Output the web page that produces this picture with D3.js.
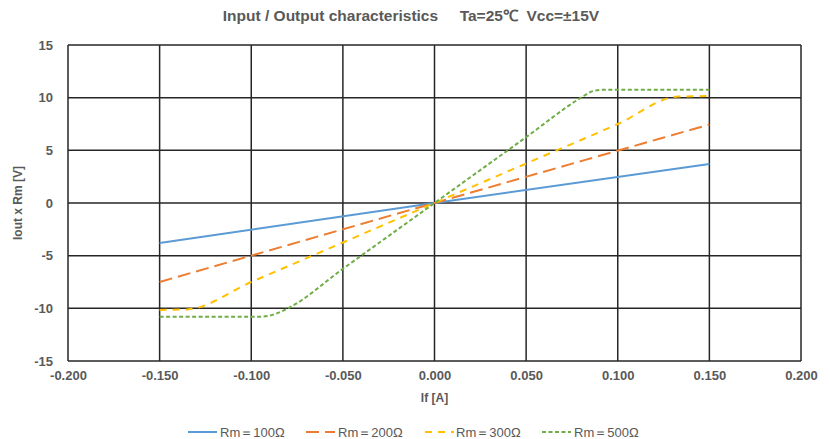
<!DOCTYPE html>
<html>
<head>
<meta charset="utf-8">
<script src="https://cdn.jsdelivr.net/npm/d3@7"></script>
<style>
	body { margin: 0; background: #fff; }
	svg { display: block; font-family: "Liberation Sans", Arial, sans-serif; }
</style>
</head>
<body>
<svg width="830" height="439"></svg>
<script>
// values
var seriesNames = ["Rm＝100Ω", "Rm＝200Ω", "Rm＝300Ω", "Rm＝500Ω"];
var seriesColors = ["#5B9BD5", "#ED7D31", "#FFC000", "#70AD47"];
var seriesDash = [null, "13,6", "7,6", "4,2.5"];

var ifRm100 = [-0.15, 0, 0.15];
var vRm100 = [-3.8, 0, 3.7];

var ifRm200 = [-0.15, 0, 0.15];
var vRm200 = [-7.5, 0, 7.45];

var ifRm300 = [-0.15, -0.135, -0.1, -0.05, 0, 0.05, 0.1, 0.133, 0.15];
var vRm300 = [-10.15, -10.1, -7.5, -3.75, 0, 3.75, 7.5, 10.1, 10.15];

var ifRm500 = [-0.15, -0.12, -0.095, -0.088, -0.08, -0.05, 0, 0.05, 0.08, 0.086, 0.092, 0.12, 0.15];
var vRm500 = [-10.8, -10.8, -10.8, -10.6, -10.0, -6.25, 0, 6.25, 10.0, 10.6, 10.75, 10.75, 10.75];

var xTicks = [-0.2, -0.15, -0.1, -0.05, 0, 0.05, 0.1, 0.15, 0.2];
var yTicks = [-15, -10, -5, 0, 5, 10, 15];

var titleText = "Input / Output characteristics\u00a0\u00a0\u00a0\u00a0\u00a0Ta=25\u2103\u00a0\u00a0Vcc=\u00b115V";

function drawChart() {
	var series = [
		{ x: ifRm100, y: vRm100 },
		{ x: ifRm200, y: vRm200 },
		{ x: ifRm300, y: vRm300 },
		{ x: ifRm500, y: vRm500 }
	].map(function(s, i) {
		return {
			name: seriesNames[i],
			color: seriesColors[i],
			dash: seriesDash[i],
			points: s.x.map(function(v, j) { return [v, s.y[j]]; })
		};
	});

	var svg = d3.select("svg"),
		margin = { top: 45, right: 29, bottom: 78, left: 68 },
		width = +svg.attr("width") - margin.left - margin.right,
		height = +svg.attr("height") - margin.top - margin.bottom;

	var x = d3.scaleLinear().domain([-0.2, 0.2]).range([0, width]),
		y = d3.scaleLinear().domain([-15, 15]).range([height, 0]);

	var g = svg.append("g")
		.attr("transform", "translate(" + margin.left + "," + margin.top + ")");

	// grid
	g.append("g")
		.selectAll("line")
		.data(xTicks)
		.enter().append("line")
		.attr("x1", function(d) { return x(d); })
		.attr("x2", function(d) { return x(d); })
		.attr("y1", 0)
		.attr("y2", height)
		.attr("stroke", "#262626")
		.attr("stroke-width", 1.5);

	g.append("g")
		.selectAll("line")
		.data(yTicks)
		.enter().append("line")
		.attr("x1", 0)
		.attr("x2", width)
		.attr("y1", function(d) { return y(d); })
		.attr("y2", function(d) { return y(d); })
		.attr("stroke", "#262626")
		.attr("stroke-width", 1.5);

	// axes (labels only), plain hyphen for negatives like the original
	var fx = d3.format(".3f"), fy = d3.format("d");
	var xAxis = g.append("g")
		.attr("transform", "translate(0," + height + ")")
		.call(d3.axisBottom(x).tickValues(xTicks).tickSize(0).tickPadding(10)
			.tickFormat(function(d) { return fx(d).replace("\u2212", "-"); }));
	var yAxis = g.append("g")
		.call(d3.axisLeft(y).tickValues(yTicks).tickSize(0).tickPadding(15)
			.tickFormat(function(d) { return fy(d).replace("\u2212", "-"); }));
	[xAxis, yAxis].forEach(function(a) {
		a.select(".domain").remove();
		a.selectAll("text")
			.attr("fill", "#595959")
			.style("font-size", "13px")
			.style("font-weight", "bold")
			.style("font-family", "'Liberation Sans', Arial, sans-serif");
	});

	// lines
	var line = d3.line()
		.x(function(d) { return x(d[0]); })
		.y(function(d) { return y(d[1]); })
		.curve(d3.curveMonotoneX);

	g.selectAll(".series")
		.data(series)
		.enter().append("path")
		.attr("class", "series")
		.attr("d", function(d) { return line(d.points); })
		.attr("fill", "none")
		.attr("stroke", function(d) { return d.color; })
		.attr("stroke-width", 2)
		.attr("stroke-dasharray", function(d) { return d.dash; });

	// title & axis titles
	svg.append("text")
		.attr("x", 411)
		.attr("y", 21)
		.attr("text-anchor", "middle")
		.attr("fill", "#595959")
		.style("font-size", "15.5px")
		.style("font-weight", "bold")
		.text(titleText);

	svg.append("text")
		.attr("x", margin.left + x(0))
		.attr("y", 402)
		.attr("text-anchor", "middle")
		.attr("fill", "#595959")
		.style("font-size", "12px")
		.style("font-weight", "bold")
		.text("If [A]");

	svg.append("text")
		.attr("transform", "translate(22," + (margin.top + y(0)) + ") rotate(-90)")
		.attr("text-anchor", "middle")
		.attr("fill", "#595959")
		.style("font-size", "12px")
		.style("font-weight", "bold")
		.text("Iout x Rm [V]");

	// legend
	var legendX = [188, 306, 425, 542];
	var legend = svg.append("g")
		.selectAll("g")
		.data(series)
		.enter().append("g")
		.attr("transform", function(d, i) { return "translate(" + legendX[i] + ",432)"; });

	legend.append("line")
		.attr("x1", 0)
		.attr("x2", 29)
		.attr("stroke", function(d) { return d.color; })
		.attr("stroke-width", 2)
		.attr("stroke-dasharray", function(d) { return d.dash; });

	legend.append("text")
		.attr("x", function(d, i) { return i == 2 ? 31 : 32; })
		.attr("dy", "0.35em")
		.attr("fill", "#595959")
		.style("font-size", "13px")
		.text(function(d) { return d.name; });
}

drawChart();
</script>
</body>
</html>
